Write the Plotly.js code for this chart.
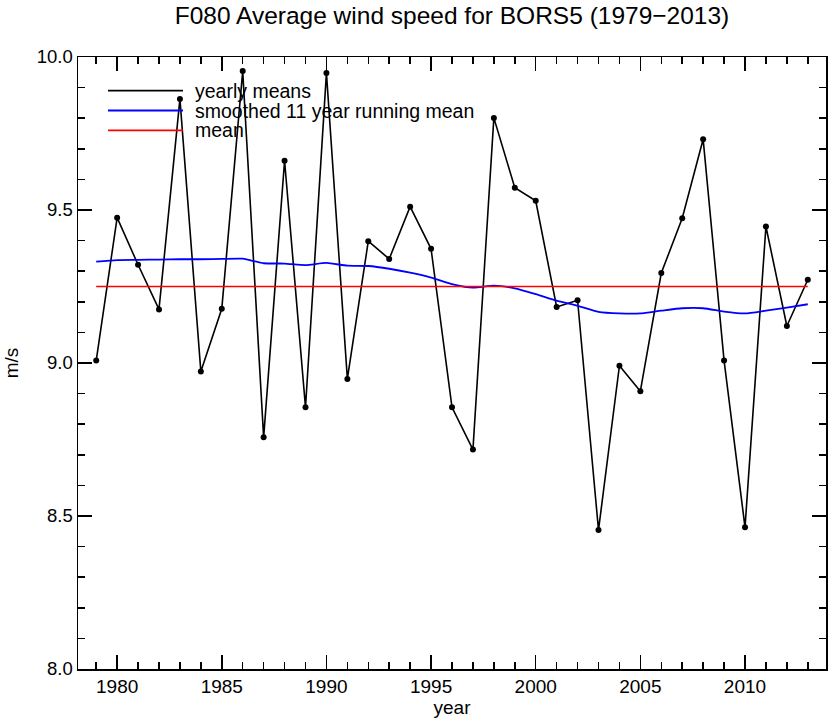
<!DOCTYPE html>
<html>
<head>
<meta charset="utf-8">
<script src="https://cdn.plot.ly/plotly-3.0.1.min.js"></script>
<style>html,body{margin:0;padding:0;background:#fff;}#chart{width:830px;height:726px;}</style>
</head>
<body>
<div id="chart"></div>
<script>
const years = [1979,1980,1981,1982,1983,1984,1985,1986,1987,1988,1989,1990,1991,1992,1993,1994,1995,1996,1997,1998,1999,2000,2001,2002,2003,2004,2005,2006,2007,2008,2009,2010,2011,2012,2013];
const yearlyMeans = [9.008,9.475,9.321,9.175,9.863,8.972,9.177,9.954,8.757,9.661,8.855,9.948,8.948,9.398,9.340,9.511,9.373,8.855,8.717,9.801,9.573,9.530,9.183,9.205,8.454,8.991,8.908,9.294,9.473,9.731,9.008,8.463,9.446,9.121,9.272];
const smoothed = [9.331,9.336,9.337,9.338,9.339,9.339,9.340,9.341,9.326,9.325,9.320,9.327,9.318,9.317,9.308,9.295,9.279,9.258,9.246,9.253,9.244,9.225,9.204,9.187,9.167,9.162,9.162,9.171,9.179,9.179,9.168,9.162,9.171,9.181,9.192];
const meanValue = 9.25;
const meanYears = [1979, 2013];
const legendLabels = ["yearly means", "smoothed 11 year running mean", "mean"];
const legendColors = ["#000000", "#0000ff", "#ff0000"];

const font = "Liberation Sans, Arial, Helvetica, sans-serif";

const traces = [
  {x: years, y: yearlyMeans, mode: "lines+markers", line: {color: "#000", width: 1.6},
   marker: {color: "#000", size: 6}, showlegend: false, hoverinfo: "x+y"},
  {x: years, y: smoothed, mode: "lines", line: {color: "#0000ff", width: 1.8, shape: "spline", smoothing: 0.6},
   showlegend: false},
  {x: meanYears, y: [meanValue, meanValue], mode: "lines", line: {color: "#ff0000", width: 1.6},
   showlegend: false}
];

const shapes = [];
const annotations = [];
const legTop = 1 - (90.7 - 57) / 612;
const rowStep = 19.8 / 612;
legendLabels.forEach((lab, i) => {
  const yy = legTop - i * rowStep;
  shapes.push({type: "line", xref: "paper", yref: "paper", x0: (108 - 78) / 748, x1: (183 - 78) / 748,
    y0: yy, y1: yy, line: {color: legendColors[i], width: 1.8}});
  annotations.push({xref: "paper", yref: "paper", x: (194 - 78) / 748, y: yy, xanchor: "left", yanchor: "middle",
    text: lab, showarrow: false, borderpad: 0,
    font: {family: font, size: 19.5, color: "#000"}});
});

const axisCommon = {
  showgrid: false, zeroline: false, showline: true, linecolor: "#000", linewidth: 1.5,
  mirror: "allticks", ticks: "inside", tickcolor: "#000", tickwidth: 1.5, ticklen: 14,
  tickfont: {family: font, size: 19, color: "#000"}
};

const layout = {
  width: 830, height: 726,
  margin: {l: 78, r: 4, t: 57, b: 57},
  paper_bgcolor: "#fff", plot_bgcolor: "#fff",
  title: {text: "F080 Average wind speed for BORS5 (1979\u22122013)", x: 0.5, xref: "paper", xanchor: "center",
    y: 1 - 15 / 726, yanchor: "middle", yref: "container", font: {family: font, size: 24.5, color: "#000"}},
  xaxis: Object.assign({}, axisCommon, {
    range: [1978.13, 2013.87], tickmode: "linear", tick0: 1980, dtick: 5,
    minor: {dtick: 1, tick0: 1980, ticks: "inside", ticklen: 7, tickcolor: "#000", tickwidth: 1.5, showgrid: false},
    title: {text: "year", font: {family: font, size: 19, color: "#000"}, standoff: 2}
  }),
  yaxis: Object.assign({}, axisCommon, {
    range: [8.0, 10.0], tickmode: "linear", tick0: 8.0, dtick: 0.5, tickformat: ".1f",
    tickfont: {family: font, size: 18.5, color: "#000"},
    minor: {dtick: 0.1, tick0: 8.0, ticks: "inside", ticklen: 7, tickcolor: "#000", tickwidth: 1.5, showgrid: false},
    title: {text: "m/s", font: {family: font, size: 19, color: "#000"}, standoff: 13}
  }),
  shapes: shapes,
  annotations: annotations,
  showlegend: false
};

Plotly.newPlot("chart", traces, layout, {displayModeBar: false, staticPlot: true});
</script>
</body>
</html>
